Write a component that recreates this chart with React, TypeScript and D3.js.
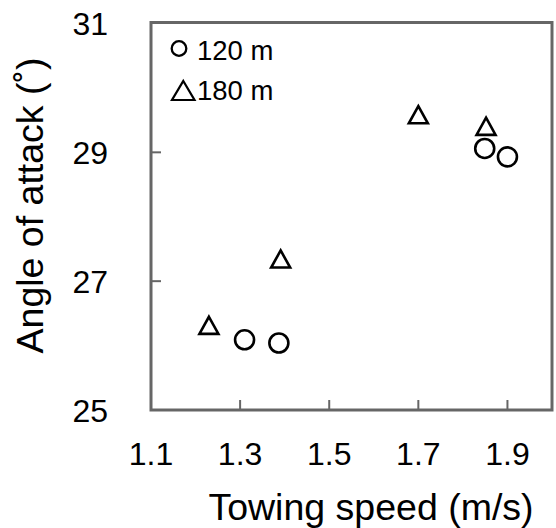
import React from "react";
import * as d3 from "d3";

const speed120 = [1.31, 1.387, 1.849, 1.9];
const angle120 = [26.09, 26.04, 29.06, 28.93];
const speed180 = [1.23, 1.391, 1.7, 1.852];
const angle180 = [26.27, 27.3, 29.54, 29.36];
const xTicks = [1.1, 1.3, 1.5, 1.7, 1.9];
const yTicks = [25, 27, 29, 31];
const legendLabels = ["120 m", "180 m"];

const W = 556;
const H = 528;
const L = 151, R = 552, T = 23.5, B = 410;
const FONT = "Liberation Sans, Arial, sans-serif";

export default function App() {
  const x = d3.scaleLinear().domain([1.1, 2.0]).range([L, R]);
  const y = d3.scaleLinear().domain([25, 31]).range([B, T]);
  const tri = (cx: number, cy: number, s: number) => {
    const h = s * 0.9;
    return `M${cx},${cy - (2 * h) / 3}L${cx + s / 2},${cy + h / 3}L${cx - s / 2},${cy + h / 3}Z`;
  };
  const frame = "#666666";
  return (
    <svg width={W} height={H} style={{ position: "absolute", left: 0, top: 0 }}>
      <rect x={0} y={0} width={W} height={H} fill="#fff" />
      {yTicks.slice(1, -1).map((t) => (
        <line key={"yt" + t} x1={L} x2={L + 10} y1={y(t)} y2={y(t)} stroke={frame} strokeWidth={2} />
      ))}
      {xTicks.slice(1).map((t) => (
        <line key={"xt" + t} x1={x(t)} x2={x(t)} y1={B} y2={B - 10} stroke={frame} strokeWidth={2} />
      ))}
      <rect x={L} y={T - 1} width={R - L} height={B - T + 1} fill="none" stroke={frame} strokeWidth={3} />
      {yTicks.map((t) => (
        <text key={"yl" + t} x={108} y={y(t)} dy="0.36em" textAnchor="end" fontFamily={FONT} fontSize={32} fill="#000">
          {t}
        </text>
      ))}
      {xTicks.map((t) => (
        <text key={"xl" + t} x={x(t)} y={465} textAnchor="middle" fontFamily={FONT} fontSize={32} fill="#000">
          {t.toFixed(1)}
        </text>
      ))}
      <text x={(207 + 535) / 2} y={520} textAnchor="middle" fontFamily={FONT} fontSize={37.5} fill="#000">
        Towing speed (m/s)
      </text>
      <text
        transform={`translate(43,${(53 + 358) / 2}) rotate(-90)`}
        textAnchor="middle"
        fontFamily={FONT}
        fontSize={37.5}
        fill="#000"
      >
        Angle of attack (˚)
      </text>
      {speed120.map((s, i) => (
        <circle key={"c" + i} cx={x(s)} cy={y(angle120[i])} r={9.5} fill="none" stroke="#000" strokeWidth={2.6} />
      ))}
      {speed180.map((s, i) => (
        <path key={"t" + i} d={tri(x(s), y(angle180[i]), 19)} fill="none" stroke="#000" strokeWidth={2.6} strokeLinejoin="miter" />
      ))}
      <circle cx={179} cy={48.5} r={7.3} fill="none" stroke="#000" strokeWidth={2.3} />
      <text x={197} y={60} fontFamily={FONT} fontSize={27.5} fill="#000">{legendLabels[0]}</text>
      <path d="M183.3,81L194.5,100L172,100Z" fill="none" stroke="#000" strokeWidth={2.2} />
      <text x={197} y={100} fontFamily={FONT} fontSize={27.5} fill="#000">{legendLabels[1]}</text>
    </svg>
  );
}
